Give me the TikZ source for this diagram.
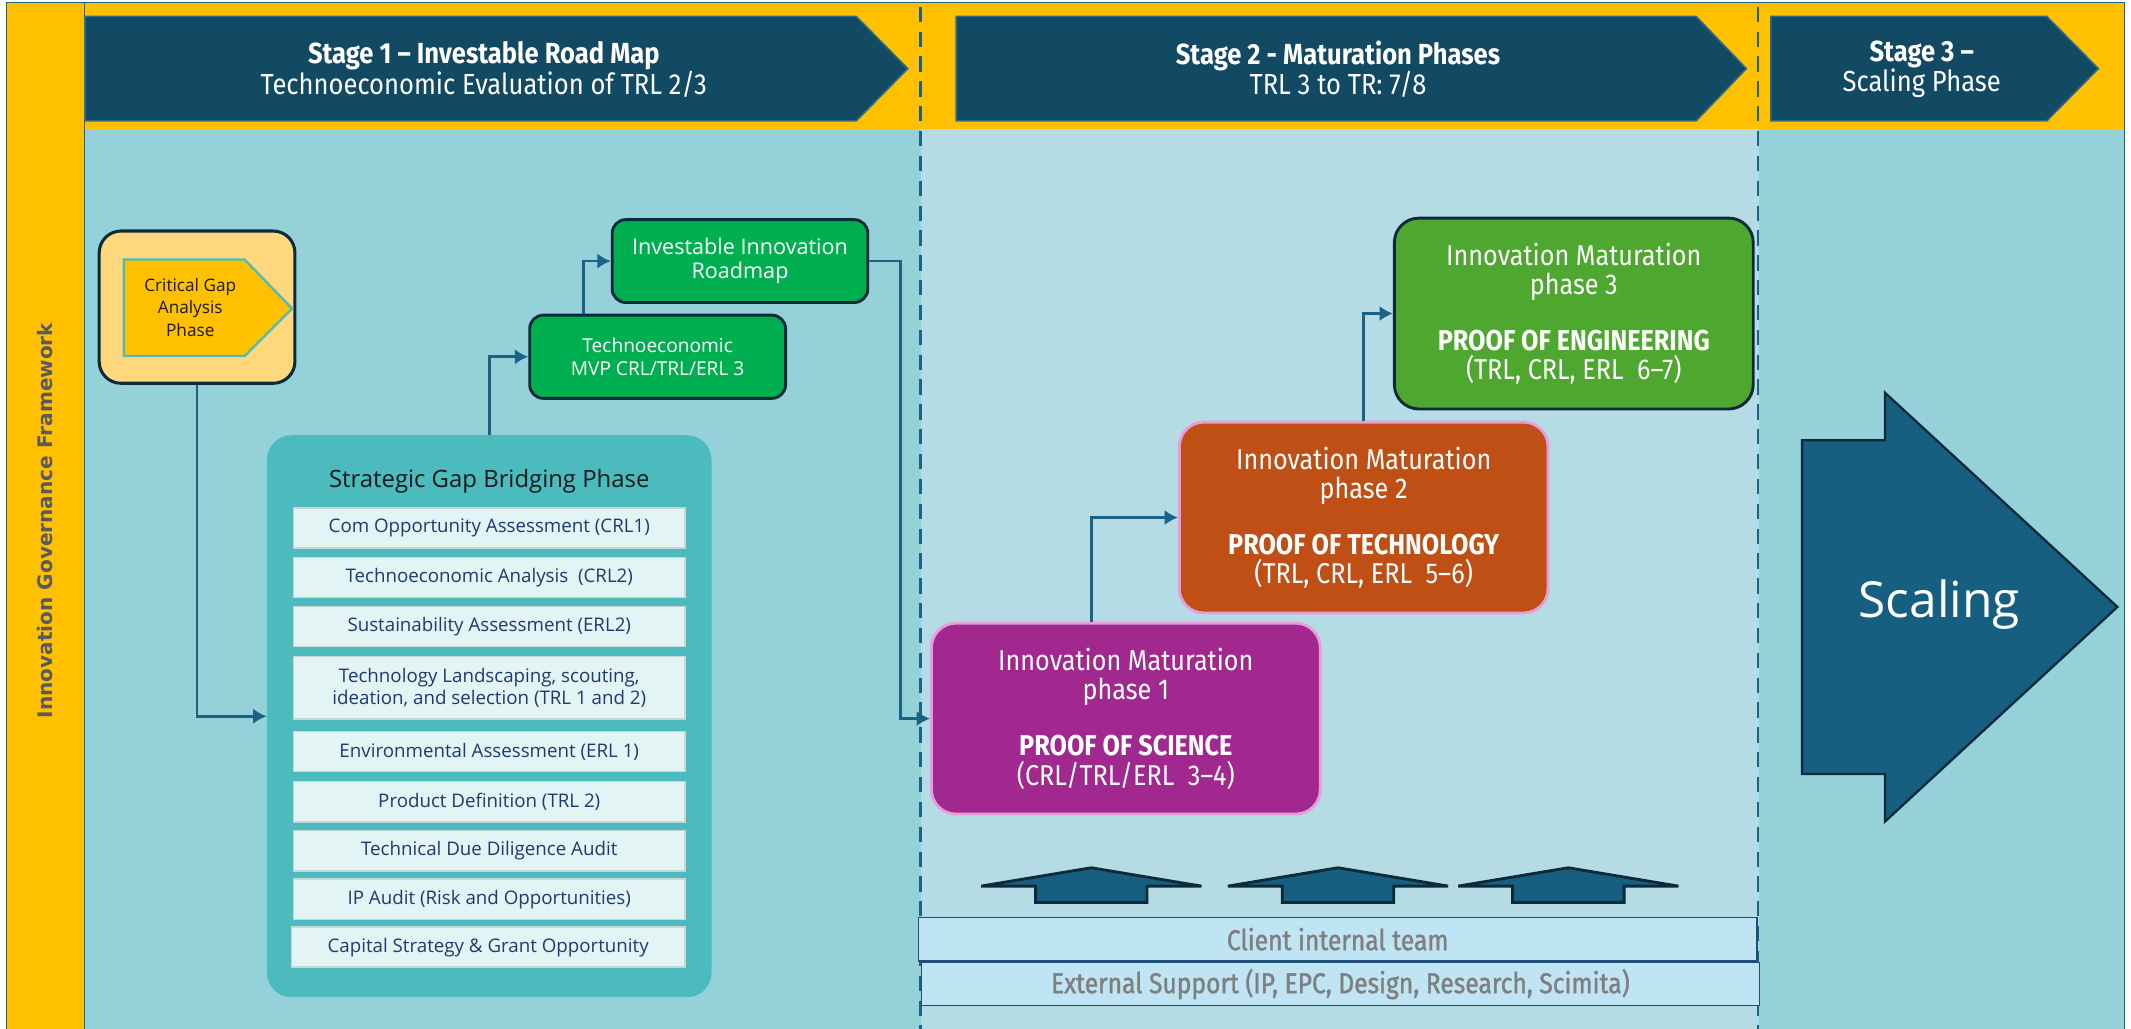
\documentclass[tikz,border=0pt]{standalone}
\usepackage{fontspec}
\setmainfont{Fira Sans}[FakeStretch=0.88]
\newfontfamily\opensans{Open Sans}
\newfontfamily\dejavu{DejaVu Sans}
\newfontfamily\teamfont{Fira Sans}[FakeStretch=0.86, FakeBold=1.2]
\usetikzlibrary{arrows.meta}
\definecolor{govyellow}{HTML}{FFC000}
\definecolor{bgone}{HTML}{94D1D8}
\definecolor{bgtwo}{HTML}{B5DCE4}
\definecolor{headnavy}{HTML}{124963}
\definecolor{headedge}{HTML}{2C6D8C}
\definecolor{linkblue}{HTML}{1B6287}
\definecolor{darkedge}{HTML}{0E2A3A}
\definecolor{gapcream}{HTML}{FFD87D}
\definecolor{bridgeteal}{HTML}{4BBBBD}
\definecolor{itemfill}{HTML}{E3F4F5}
\definecolor{itemedge}{HTML}{C8D6D8}
\definecolor{itemtext}{HTML}{1F3A6E}
\definecolor{titledark}{HTML}{1A1A1A}
\definecolor{mvpgreen}{HTML}{00B050}
\definecolor{imone}{HTML}{A0288F}
\definecolor{imtwo}{HTML}{C04F15}
\definecolor{imthree}{HTML}{4EA72E}
\definecolor{pinkedge}{HTML}{E89DDB}
\definecolor{teamfill}{HTML}{BFE4F3}
\definecolor{teamedge}{HTML}{1F4E79}
\definecolor{teamtext}{HTML}{7F7F7F}
\definecolor{arrowblue}{HTML}{175F80}
\definecolor{sidegray}{HTML}{5A5A5A}

\begin{document}
\begin{tikzpicture}[x=0.025cm, y=-0.025cm,
    link/.style={draw=linkblue, line width=1.4pt, ->, >={Latex[length=7pt,width=8pt]}},
    chevron/.style={fill=headnavy, draw=headedge, line width=0.8pt},
    stagetext/.style={text=white, align=center, font=\fontsize{15.2}{16}\selectfont},
    greenbox/.style={fill=mvpgreen, draw=darkedge, line width=1.5pt, rounded corners=0.25cm, text=white, align=center, font=\opensans\fontsize{10}{11.7}\selectfont},
    phasebox/.style={rounded corners=0.45cm, line width=1.5pt, text=white, align=center, font=\fontsize{15}{15.5}\selectfont},
    itembox/.style={fill=itemfill, draw=itemedge, line width=0.8pt, minimum width=7.2cm, minimum height=0.74cm, inner sep=0pt, text=itemtext, align=center, font=\opensans\fontsize{9.8}{11.8}\selectfont},
    teambox/.style={fill=teamfill, draw=teamedge, line width=0.8pt, inner sep=0pt, text=teamtext, font=\teamfont\fontsize{15}{16}\selectfont}]
  \useasboundingbox (0,0) rectangle (1568,757);
  \fill[white] (0,0) rectangle (1568,757);
  \fill[bgone] (62,95) rectangle (678,757);
  \fill[bgtwo] (678,95) rectangle (1294,757);
  \fill[bgone] (1294,95) rectangle (1563,757);
  \fill[govyellow] (5,2) rectangle (62,757);
  \fill[govyellow] (62,2) rectangle (1563,95);
  \draw[linkblue, line width=0.6pt] (5,757) -- (5,2) -- (1563,2) -- (1563,757);
  \draw[linkblue, line width=0.6pt] (62,2) -- (62,757);
  \foreach \xd in {677.5,1293.5}
    \draw[linkblue, line width=1.4pt, dash pattern=on 8pt off 5pt] (\xd,5) -- (\xd,757);
  \node[rotate=90, text=sidegray, font=\dejavu\bfseries\fontsize{10.5}{12}\selectfont] (govlabel) at (33,383) {Innovation Governance Framework};

  \draw[chevron] (62.6,12) -- (630,12) -- (668,50.5) -- (630,89) -- (62.6,89) -- cycle;
  \draw[chevron] (703.6,12) -- (1248,12) -- (1285,50.5) -- (1248,89) -- (703.6,89) -- cycle;
  \draw[chevron] (1303,12) -- (1506,12) -- (1544,50.5) -- (1506,89) -- (1303,89) -- cycle;
  \node[stagetext] (stagea) at (356,51) {{\bfseries Stage 1 – Investable Road Map}\\Technoeconomic Evaluation of TRL 2/3};
  \node[stagetext] (stageb) at (984.5,51) {{\bfseries Stage 2 - Maturation Phases}\\TRL 3 to TR: 7/8};
  \node[stagetext] (stagec) at (1414,51) {{\bfseries Stage 3 –}\\Scaling Phase};

  \node[draw=darkedge, fill=gapcream, line width=1.6pt, rounded corners=0.4cm, minimum width=3.6cm, minimum height=2.8cm] (gapbox) at (145,226) {};
  \draw[fill=govyellow, draw=bridgeteal, line width=1.2pt] (91,191) -- (180,191) -- (215,227) -- (180,262) -- (91,262) -- cycle;
  \node[text=titledark, align=center, font=\opensans\fontsize{9}{11.8}\selectfont] (gaptitle) at (140,226) {Critical Gap\\Analysis\\Phase};

  \node[fill=bridgeteal, rounded corners=0.45cm, minimum width=8.175cm, minimum height=10.335cm] (bridge) at (360,527) {};
  \node[text=titledark, font=\opensans\fontsize{12.5}{14}\selectfont] (bridgetitle) at (360,354) {Strategic Gap Bridging Phase};
  \foreach \yy/\lbl [count=\i] in {388.5/{Com Opportunity Assessment (CRL1)}, 425/{Technoeconomic Analysis\ \ (CRL2)}, 461/{Sustainability Assessment (ERL2)}, 553/{Environmental Assessment (ERL 1)}, 590/{Product Definition (TRL 2)}, 626/{Technical Due Diligence Audit}, 661.7/{IP Audit (Risk and Opportunities)}}
    \node[itembox] (item\i) at (360,\yy) {\lbl};
  \node[itembox, minimum height=1.155cm] (scouting) at (360,506.1) {Technology Landscaping, scouting,\\ideation, and selection (TRL 1 and 2)};
  \node[itembox, minimum width=7.24cm] (capital) at (359.2,696.9) {Capital Strategy \& Grant Opportunity};

  \node[greenbox, minimum width=4.705cm, minimum height=1.53cm] (mvp) at (483.9,262.5) {Technoeconomic\\MVP CRL/TRL/ERL 3};
  \node[greenbox, font=\opensans\fontsize{11.3}{12.5}\selectfont, minimum width=4.7cm, minimum height=1.525cm] (roadmap) at (544.5,192.1) {Investable Innovation\\Roadmap};

  \node[phasebox, fill=imone, draw=pinkedge, minimum width=7.15cm, minimum height=3.51cm] (phaseone) at (828.4,528.75) {Innovation Maturation\\phase 1\\[13.5pt]{\bfseries PROOF OF SCIENCE}\\(CRL/TRL/ERL\ \ 3–4)};
  \node[phasebox, fill=imtwo, draw=pinkedge, minimum width=6.78cm, minimum height=3.51cm] (phasetwo) at (1003.4,380.8) {Innovation Maturation\\phase 2\\[13.5pt]{\bfseries PROOF OF TECHNOLOGY}\\(TRL, CRL, ERL\ \ 5–6)};
  \node[phasebox, fill=imthree, draw=darkedge, minimum width=6.6cm, minimum height=3.51cm] (phasethree) at (1158,230.7) {Innovation Maturation\\phase 3\\[13.5pt]{\bfseries PROOF OF ENGINEERING}\\(TRL, CRL, ERL\ \ 6–7)};

  \draw[link] (gapbox.south) |- (bridge.west);
  \draw[link] (bridge.north) |- (mvp.west);
  \draw[link] ([xshift=1.02cm]mvp.north west) |- (roadmap.west);
  \draw[link] (roadmap.east) -- ++(23,0) |- (phaseone.west);
  \draw[link] ([xshift=-0.63cm]phaseone.north) |- (phasetwo.west);
  \draw[link] (phasetwo.north) |- (phasethree.west);

  \foreach \cx in {803,984.5,1154}
    \draw[fill=arrowblue, draw=darkedge, line width=1.5pt] (\cx-81,652) -- (\cx,638.5) -- (\cx+81,652) -- (\cx+41,652) -- (\cx+41,664) -- (\cx-41,664) -- (\cx-41,652) -- cycle;
  \node[teambox, minimum width=15.425cm, minimum height=0.8cm] (clientteam) at (984.3,691) {Client internal team};
  \node[teambox, minimum width=15.41cm, minimum height=0.79cm] (extsupport) at (986.25,724.1) {External Support (IP, EPC, Design, Research, Scimita)};

  \draw[fill=arrowblue, draw=darkedge, line width=1.2pt] (1326,324) -- (1387,324) -- (1387,289) -- (1558,446.6) -- (1387,604.5) -- (1387,569.5) -- (1326,569.5) -- cycle;
  \node[text=white, font=\opensans\fontsize{26}{30}\selectfont] (scaling) at (1427,444.5) {Scaling};
\end{tikzpicture}
\end{document}
